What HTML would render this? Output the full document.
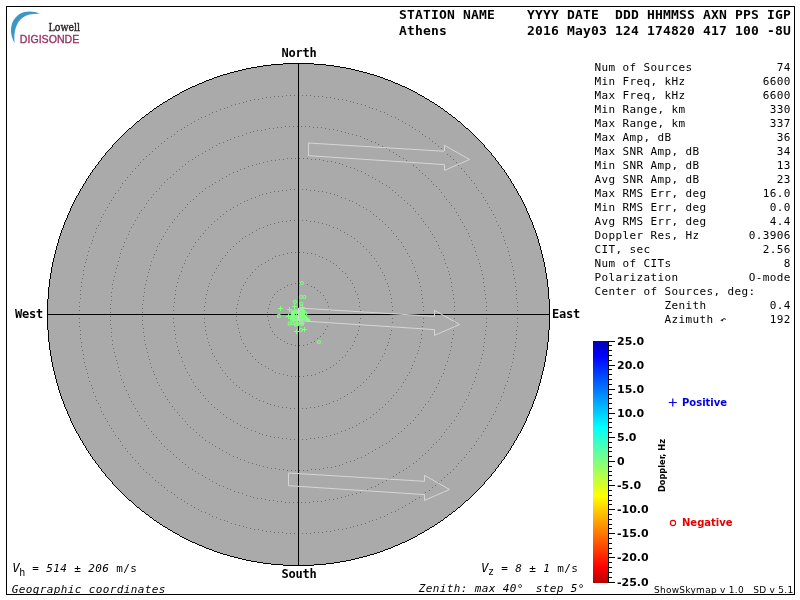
<!DOCTYPE html><html><head><meta charset="utf-8"><title>ShowSkymap</title><style>
html,body{margin:0;padding:0;background:#fff;}body{width:800px;height:600px;overflow:hidden;position:relative;}
svg{position:absolute;left:0;top:0;will-change:transform;}
.mb{font-family:"DejaVu Sans Mono",monospace;font-weight:bold;}
.m{font-family:"DejaVu Sans Mono",monospace;}
.sb{font-family:"DejaVu Sans",sans-serif;font-weight:bold;}
.s{font-family:"DejaVu Sans",sans-serif;}
</style></head><body>
<svg width="800" height="600" viewBox="0 0 800 600">
<rect x="6.5" y="6.5" width="788" height="588" fill="none" stroke="#000" stroke-width="1"/>
<path d="M14.6,43 C8.8,33 9.8,20 20,13.8 C26,10.6 34,10.9 40,13.9 C34,13.5 28,14.2 23.2,17.2 C15.8,22.2 13.6,32 14.6,43 Z" fill="#3a97c6"/>
<text x="48.6" y="30.7" style="font-family:'DejaVu Serif','Liberation Serif',serif;font-stretch:condensed;font-size:10.4px;fill:#2a2428;stroke:#2a2428;stroke-width:0.35px">Lowell</text>
<text x="19.8" y="43" style="font-family:'Liberation Sans',sans-serif;font-size:10.6px;fill:#952f63;stroke:#952f63;stroke-width:0.3px">DIGISONDE</text>
<circle cx="298.5" cy="314.5" r="251.0" fill="#aaaaaa" stroke="none"/>
<path d="M79,302h1v1h-1zM79,306h1v1h-1zM79,310h1v1h-1zM79,314h1v1h-1zM79,318h1v1h-1zM79,322h1v1h-1zM79,326h1v1h-1zM80,290h1v1h-1zM80,294h1v1h-1zM80,298h1v1h-1zM80,330h1v1h-1zM80,334h1v1h-1zM80,338h1v1h-1zM81,282h1v1h-1zM81,286h1v1h-1zM81,342h1v1h-1zM81,346h1v1h-1zM82,278h1v1h-1zM82,350h1v1h-1zM83,270h1v1h-1zM83,274h1v1h-1zM83,354h1v1h-1zM83,358h1v1h-1zM84,266h1v1h-1zM84,362h1v1h-1zM85,262h1v1h-1zM85,366h1v1h-1zM86,259h1v1h-1zM86,369h1v1h-1zM87,255h1v1h-1zM87,373h1v1h-1zM88,251h1v1h-1zM88,377h1v1h-1zM89,247h1v1h-1zM89,381h1v1h-1zM91,243h1v1h-1zM91,385h1v1h-1zM92,240h1v1h-1zM92,388h1v1h-1zM93,236h1v1h-1zM93,392h1v1h-1zM95,232h1v1h-1zM95,396h1v1h-1zM96,228h1v1h-1zM96,400h1v1h-1zM98,225h1v1h-1zM98,403h1v1h-1zM100,221h1v1h-1zM100,407h1v1h-1zM101,217h1v1h-1zM101,411h1v1h-1zM103,214h1v1h-1zM103,414h1v1h-1zM105,210h1v1h-1zM105,418h1v1h-1zM107,207h1v1h-1zM107,421h1v1h-1zM109,203h1v1h-1zM109,425h1v1h-1zM110,304h1v1h-1zM110,308h1v1h-1zM110,312h1v1h-1zM110,316h1v1h-1zM110,320h1v1h-1zM110,324h1v1h-1zM111,200h1v1h-1zM111,292h1v1h-1zM111,296h1v1h-1zM111,300h1v1h-1zM111,328h1v1h-1zM111,332h1v1h-1zM111,336h1v1h-1zM111,428h1v1h-1zM112,284h1v1h-1zM112,288h1v1h-1zM112,340h1v1h-1zM112,344h1v1h-1zM113,197h1v1h-1zM113,280h1v1h-1zM113,348h1v1h-1zM113,431h1v1h-1zM114,276h1v1h-1zM114,352h1v1h-1zM115,193h1v1h-1zM115,272h1v1h-1zM115,356h1v1h-1zM115,435h1v1h-1zM116,268h1v1h-1zM116,360h1v1h-1zM117,265h1v1h-1zM117,363h1v1h-1zM118,190h1v1h-1zM118,261h1v1h-1zM118,367h1v1h-1zM118,438h1v1h-1zM119,257h1v1h-1zM119,371h1v1h-1zM120,187h1v1h-1zM120,253h1v1h-1zM120,375h1v1h-1zM120,441h1v1h-1zM121,249h1v1h-1zM121,379h1v1h-1zM122,183h1v1h-1zM122,445h1v1h-1zM123,246h1v1h-1zM123,382h1v1h-1zM124,242h1v1h-1zM124,386h1v1h-1zM125,180h1v1h-1zM125,448h1v1h-1zM126,238h1v1h-1zM126,390h1v1h-1zM127,177h1v1h-1zM127,451h1v1h-1zM128,234h1v1h-1zM128,394h1v1h-1zM129,231h1v1h-1zM129,397h1v1h-1zM130,174h1v1h-1zM130,454h1v1h-1zM131,227h1v1h-1zM131,401h1v1h-1zM132,171h1v1h-1zM132,457h1v1h-1zM133,224h1v1h-1zM133,404h1v1h-1zM135,168h1v1h-1zM135,220h1v1h-1zM135,408h1v1h-1zM135,460h1v1h-1zM137,217h1v1h-1zM137,411h1v1h-1zM138,165h1v1h-1zM138,463h1v1h-1zM139,213h1v1h-1zM139,415h1v1h-1zM140,162h1v1h-1zM140,466h1v1h-1zM141,210h1v1h-1zM141,418h1v1h-1zM142,304h1v1h-1zM142,308h1v1h-1zM142,312h1v1h-1zM142,316h1v1h-1zM142,320h1v1h-1zM142,324h1v1h-1zM143,159h1v1h-1zM143,296h1v1h-1zM143,300h1v1h-1zM143,328h1v1h-1zM143,332h1v1h-1zM143,469h1v1h-1zM144,207h1v1h-1zM144,288h1v1h-1zM144,292h1v1h-1zM144,336h1v1h-1zM144,340h1v1h-1zM144,421h1v1h-1zM145,284h1v1h-1zM145,344h1v1h-1zM146,156h1v1h-1zM146,203h1v1h-1zM146,280h1v1h-1zM146,348h1v1h-1zM146,425h1v1h-1zM146,472h1v1h-1zM147,276h1v1h-1zM147,352h1v1h-1zM148,200h1v1h-1zM148,272h1v1h-1zM148,356h1v1h-1zM148,428h1v1h-1zM149,154h1v1h-1zM149,269h1v1h-1zM149,359h1v1h-1zM149,474h1v1h-1zM150,265h1v1h-1zM150,363h1v1h-1zM151,197h1v1h-1zM151,261h1v1h-1zM151,367h1v1h-1zM151,431h1v1h-1zM152,151h1v1h-1zM152,477h1v1h-1zM153,194h1v1h-1zM153,257h1v1h-1zM153,371h1v1h-1zM153,434h1v1h-1zM154,254h1v1h-1zM154,374h1v1h-1zM155,148h1v1h-1zM155,480h1v1h-1zM156,191h1v1h-1zM156,250h1v1h-1zM156,378h1v1h-1zM156,437h1v1h-1zM157,246h1v1h-1zM157,382h1v1h-1zM158,146h1v1h-1zM158,482h1v1h-1zM159,188h1v1h-1zM159,243h1v1h-1zM159,385h1v1h-1zM159,440h1v1h-1zM161,143h1v1h-1zM161,185h1v1h-1zM161,239h1v1h-1zM161,389h1v1h-1zM161,443h1v1h-1zM161,485h1v1h-1zM163,236h1v1h-1zM163,392h1v1h-1zM164,141h1v1h-1zM164,182h1v1h-1zM164,446h1v1h-1zM164,487h1v1h-1zM165,232h1v1h-1zM165,396h1v1h-1zM167,138h1v1h-1zM167,179h1v1h-1zM167,229h1v1h-1zM167,399h1v1h-1zM167,449h1v1h-1zM167,490h1v1h-1zM169,226h1v1h-1zM169,402h1v1h-1zM170,177h1v1h-1zM170,451h1v1h-1zM171,136h1v1h-1zM171,492h1v1h-1zM172,222h1v1h-1zM172,406h1v1h-1zM173,174h1v1h-1zM173,306h1v1h-1zM173,310h1v1h-1zM173,314h1v1h-1zM173,318h1v1h-1zM173,322h1v1h-1zM173,454h1v1h-1zM174,134h1v1h-1zM174,219h1v1h-1zM174,298h1v1h-1zM174,302h1v1h-1zM174,326h1v1h-1zM174,330h1v1h-1zM174,409h1v1h-1zM174,494h1v1h-1zM175,290h1v1h-1zM175,294h1v1h-1zM175,334h1v1h-1zM175,338h1v1h-1zM176,171h1v1h-1zM176,286h1v1h-1zM176,342h1v1h-1zM176,457h1v1h-1zM177,131h1v1h-1zM177,216h1v1h-1zM177,282h1v1h-1zM177,346h1v1h-1zM177,412h1v1h-1zM177,497h1v1h-1zM178,278h1v1h-1zM178,350h1v1h-1zM179,169h1v1h-1zM179,213h1v1h-1zM179,275h1v1h-1zM179,353h1v1h-1zM179,415h1v1h-1zM179,459h1v1h-1zM181,129h1v1h-1zM181,271h1v1h-1zM181,357h1v1h-1zM181,499h1v1h-1zM182,166h1v1h-1zM182,210h1v1h-1zM182,267h1v1h-1zM182,361h1v1h-1zM182,418h1v1h-1zM182,462h1v1h-1zM184,127h1v1h-1zM184,263h1v1h-1zM184,365h1v1h-1zM184,501h1v1h-1zM185,164h1v1h-1zM185,207h1v1h-1zM185,260h1v1h-1zM185,368h1v1h-1zM185,421h1v1h-1zM185,464h1v1h-1zM187,125h1v1h-1zM187,204h1v1h-1zM187,256h1v1h-1zM187,372h1v1h-1zM187,424h1v1h-1zM187,503h1v1h-1zM188,161h1v1h-1zM188,467h1v1h-1zM189,253h1v1h-1zM189,375h1v1h-1zM190,201h1v1h-1zM190,427h1v1h-1zM191,123h1v1h-1zM191,249h1v1h-1zM191,379h1v1h-1zM191,505h1v1h-1zM192,159h1v1h-1zM192,469h1v1h-1zM193,199h1v1h-1zM193,246h1v1h-1zM193,382h1v1h-1zM193,429h1v1h-1zM194,121h1v1h-1zM194,507h1v1h-1zM195,157h1v1h-1zM195,242h1v1h-1zM195,386h1v1h-1zM195,471h1v1h-1zM196,196h1v1h-1zM196,432h1v1h-1zM198,119h1v1h-1zM198,155h1v1h-1zM198,239h1v1h-1zM198,389h1v1h-1zM198,473h1v1h-1zM198,509h1v1h-1zM199,193h1v1h-1zM199,435h1v1h-1zM200,236h1v1h-1zM200,392h1v1h-1zM201,117h1v1h-1zM201,511h1v1h-1zM202,153h1v1h-1zM202,191h1v1h-1zM202,437h1v1h-1zM202,475h1v1h-1zM203,233h1v1h-1zM203,395h1v1h-1zM204,306h1v1h-1zM204,310h1v1h-1zM204,314h1v1h-1zM204,318h1v1h-1zM204,322h1v1h-1zM205,116h1v1h-1zM205,151h1v1h-1zM205,188h1v1h-1zM205,230h1v1h-1zM205,298h1v1h-1zM205,302h1v1h-1zM205,326h1v1h-1zM205,330h1v1h-1zM205,398h1v1h-1zM205,440h1v1h-1zM205,477h1v1h-1zM205,512h1v1h-1zM206,294h1v1h-1zM206,334h1v1h-1zM207,290h1v1h-1zM207,338h1v1h-1zM208,227h1v1h-1zM208,286h1v1h-1zM208,342h1v1h-1zM208,401h1v1h-1zM209,114h1v1h-1zM209,149h1v1h-1zM209,186h1v1h-1zM209,283h1v1h-1zM209,345h1v1h-1zM209,442h1v1h-1zM209,479h1v1h-1zM209,514h1v1h-1zM211,224h1v1h-1zM211,279h1v1h-1zM211,349h1v1h-1zM211,404h1v1h-1zM212,112h1v1h-1zM212,147h1v1h-1zM212,184h1v1h-1zM212,275h1v1h-1zM212,353h1v1h-1zM212,444h1v1h-1zM212,481h1v1h-1zM212,516h1v1h-1zM214,221h1v1h-1zM214,272h1v1h-1zM214,356h1v1h-1zM214,407h1v1h-1zM215,182h1v1h-1zM215,446h1v1h-1zM216,111h1v1h-1zM216,145h1v1h-1zM216,268h1v1h-1zM216,360h1v1h-1zM216,483h1v1h-1zM216,517h1v1h-1zM217,219h1v1h-1zM217,409h1v1h-1zM218,265h1v1h-1zM218,363h1v1h-1zM219,143h1v1h-1zM219,180h1v1h-1zM219,448h1v1h-1zM219,485h1v1h-1zM220,109h1v1h-1zM220,216h1v1h-1zM220,261h1v1h-1zM220,367h1v1h-1zM220,412h1v1h-1zM220,519h1v1h-1zM222,178h1v1h-1zM222,258h1v1h-1zM222,370h1v1h-1zM222,450h1v1h-1zM223,142h1v1h-1zM223,214h1v1h-1zM223,414h1v1h-1zM223,486h1v1h-1zM224,108h1v1h-1zM224,520h1v1h-1zM225,255h1v1h-1zM225,373h1v1h-1zM226,176h1v1h-1zM226,211h1v1h-1zM226,417h1v1h-1zM226,452h1v1h-1zM227,107h1v1h-1zM227,140h1v1h-1zM227,252h1v1h-1zM227,376h1v1h-1zM227,488h1v1h-1zM227,521h1v1h-1zM229,174h1v1h-1zM229,454h1v1h-1zM230,139h1v1h-1zM230,209h1v1h-1zM230,249h1v1h-1zM230,379h1v1h-1zM230,419h1v1h-1zM230,489h1v1h-1zM231,105h1v1h-1zM231,523h1v1h-1zM233,172h1v1h-1zM233,207h1v1h-1zM233,246h1v1h-1zM233,382h1v1h-1zM233,421h1v1h-1zM233,456h1v1h-1zM234,137h1v1h-1zM234,491h1v1h-1zM235,104h1v1h-1zM235,524h1v1h-1zM236,243h1v1h-1zM236,308h1v1h-1zM236,312h1v1h-1zM236,316h1v1h-1zM236,320h1v1h-1zM236,385h1v1h-1zM237,171h1v1h-1zM237,205h1v1h-1zM237,304h1v1h-1zM237,324h1v1h-1zM237,423h1v1h-1zM237,457h1v1h-1zM238,136h1v1h-1zM238,300h1v1h-1zM238,328h1v1h-1zM238,492h1v1h-1zM239,103h1v1h-1zM239,241h1v1h-1zM239,296h1v1h-1zM239,332h1v1h-1zM239,387h1v1h-1zM239,525h1v1h-1zM240,169h1v1h-1zM240,203h1v1h-1zM240,292h1v1h-1zM240,336h1v1h-1zM240,425h1v1h-1zM240,459h1v1h-1zM241,289h1v1h-1zM241,339h1v1h-1zM242,135h1v1h-1zM242,238h1v1h-1zM242,390h1v1h-1zM242,493h1v1h-1zM243,102h1v1h-1zM243,285h1v1h-1zM243,343h1v1h-1zM243,526h1v1h-1zM244,168h1v1h-1zM244,201h1v1h-1zM244,427h1v1h-1zM244,460h1v1h-1zM245,236h1v1h-1zM245,282h1v1h-1zM245,346h1v1h-1zM245,392h1v1h-1zM246,101h1v1h-1zM246,133h1v1h-1zM246,495h1v1h-1zM246,527h1v1h-1zM247,200h1v1h-1zM247,278h1v1h-1zM247,350h1v1h-1zM247,428h1v1h-1zM248,166h1v1h-1zM248,462h1v1h-1zM249,234h1v1h-1zM249,394h1v1h-1zM250,100h1v1h-1zM250,132h1v1h-1zM250,275h1v1h-1zM250,353h1v1h-1zM250,496h1v1h-1zM250,528h1v1h-1zM251,198h1v1h-1zM251,430h1v1h-1zM252,165h1v1h-1zM252,232h1v1h-1zM252,272h1v1h-1zM252,356h1v1h-1zM252,396h1v1h-1zM252,463h1v1h-1zM253,131h1v1h-1zM253,497h1v1h-1zM254,99h1v1h-1zM254,529h1v1h-1zM255,197h1v1h-1zM255,269h1v1h-1zM255,359h1v1h-1zM255,431h1v1h-1zM256,164h1v1h-1zM256,230h1v1h-1zM256,398h1v1h-1zM256,464h1v1h-1zM257,130h1v1h-1zM257,498h1v1h-1zM258,99h1v1h-1zM258,266h1v1h-1zM258,362h1v1h-1zM258,529h1v1h-1zM259,163h1v1h-1zM259,195h1v1h-1zM259,228h1v1h-1zM259,400h1v1h-1zM259,433h1v1h-1zM259,465h1v1h-1zM261,130h1v1h-1zM261,264h1v1h-1zM261,364h1v1h-1zM261,498h1v1h-1zM262,98h1v1h-1zM262,194h1v1h-1zM262,434h1v1h-1zM262,530h1v1h-1zM263,162h1v1h-1zM263,227h1v1h-1zM263,401h1v1h-1zM263,466h1v1h-1zM265,129h1v1h-1zM265,262h1v1h-1zM265,366h1v1h-1zM265,499h1v1h-1zM266,97h1v1h-1zM266,193h1v1h-1zM266,435h1v1h-1zM266,531h1v1h-1zM267,161h1v1h-1zM267,225h1v1h-1zM267,312h1v1h-1zM267,316h1v1h-1zM267,403h1v1h-1zM267,467h1v1h-1zM268,260h1v1h-1zM268,308h1v1h-1zM268,320h1v1h-1zM268,368h1v1h-1zM269,128h1v1h-1zM269,304h1v1h-1zM269,324h1v1h-1zM269,500h1v1h-1zM270,97h1v1h-1zM270,192h1v1h-1zM270,224h1v1h-1zM270,301h1v1h-1zM270,327h1v1h-1zM270,404h1v1h-1zM270,436h1v1h-1zM270,531h1v1h-1zM271,160h1v1h-1zM271,468h1v1h-1zM272,258h1v1h-1zM272,297h1v1h-1zM272,331h1v1h-1zM272,370h1v1h-1zM273,128h1v1h-1zM273,500h1v1h-1zM274,96h1v1h-1zM274,191h1v1h-1zM274,223h1v1h-1zM274,294h1v1h-1zM274,334h1v1h-1zM274,405h1v1h-1zM274,437h1v1h-1zM274,532h1v1h-1zM275,160h1v1h-1zM275,256h1v1h-1zM275,372h1v1h-1zM275,468h1v1h-1zM277,127h1v1h-1zM277,291h1v1h-1zM277,337h1v1h-1zM277,501h1v1h-1zM278,96h1v1h-1zM278,191h1v1h-1zM278,222h1v1h-1zM278,406h1v1h-1zM278,437h1v1h-1zM278,532h1v1h-1zM279,159h1v1h-1zM279,255h1v1h-1zM279,373h1v1h-1zM279,469h1v1h-1zM280,289h1v1h-1zM280,339h1v1h-1zM281,127h1v1h-1zM281,501h1v1h-1zM282,96h1v1h-1zM282,190h1v1h-1zM282,221h1v1h-1zM282,407h1v1h-1zM282,438h1v1h-1zM282,532h1v1h-1zM283,159h1v1h-1zM283,254h1v1h-1zM283,374h1v1h-1zM283,469h1v1h-1zM284,287h1v1h-1zM284,341h1v1h-1zM285,126h1v1h-1zM285,502h1v1h-1zM286,95h1v1h-1zM286,190h1v1h-1zM286,221h1v1h-1zM286,407h1v1h-1zM286,438h1v1h-1zM286,533h1v1h-1zM287,158h1v1h-1zM287,253h1v1h-1zM287,285h1v1h-1zM287,343h1v1h-1zM287,375h1v1h-1zM287,470h1v1h-1zM289,126h1v1h-1zM289,502h1v1h-1zM290,95h1v1h-1zM290,189h1v1h-1zM290,220h1v1h-1zM290,408h1v1h-1zM290,439h1v1h-1zM290,533h1v1h-1zM291,158h1v1h-1zM291,252h1v1h-1zM291,284h1v1h-1zM291,344h1v1h-1zM291,376h1v1h-1zM291,470h1v1h-1zM293,126h1v1h-1zM293,502h1v1h-1zM294,95h1v1h-1zM294,189h1v1h-1zM294,220h1v1h-1zM294,408h1v1h-1zM294,439h1v1h-1zM294,533h1v1h-1zM295,158h1v1h-1zM295,252h1v1h-1zM295,283h1v1h-1zM295,345h1v1h-1zM295,376h1v1h-1zM295,470h1v1h-1zM297,126h1v1h-1zM297,502h1v1h-1zM298,95h1v1h-1zM298,189h1v1h-1zM298,220h1v1h-1zM298,408h1v1h-1zM298,439h1v1h-1zM298,533h1v1h-1zM299,158h1v1h-1zM299,252h1v1h-1zM299,283h1v1h-1zM299,345h1v1h-1zM299,376h1v1h-1zM299,470h1v1h-1zM301,126h1v1h-1zM301,502h1v1h-1zM302,95h1v1h-1zM302,189h1v1h-1zM302,220h1v1h-1zM302,408h1v1h-1zM302,439h1v1h-1zM302,533h1v1h-1zM303,158h1v1h-1zM303,252h1v1h-1zM303,283h1v1h-1zM303,345h1v1h-1zM303,376h1v1h-1zM303,470h1v1h-1zM305,126h1v1h-1zM305,502h1v1h-1zM306,95h1v1h-1zM306,189h1v1h-1zM306,220h1v1h-1zM306,408h1v1h-1zM306,439h1v1h-1zM306,533h1v1h-1zM307,158h1v1h-1zM307,253h1v1h-1zM307,284h1v1h-1zM307,344h1v1h-1zM307,375h1v1h-1zM307,470h1v1h-1zM309,126h1v1h-1zM309,502h1v1h-1zM310,95h1v1h-1zM310,190h1v1h-1zM310,221h1v1h-1zM310,407h1v1h-1zM310,438h1v1h-1zM310,533h1v1h-1zM311,159h1v1h-1zM311,253h1v1h-1zM311,286h1v1h-1zM311,342h1v1h-1zM311,375h1v1h-1zM311,469h1v1h-1zM313,127h1v1h-1zM313,501h1v1h-1zM314,96h1v1h-1zM314,190h1v1h-1zM314,221h1v1h-1zM314,287h1v1h-1zM314,341h1v1h-1zM314,407h1v1h-1zM314,438h1v1h-1zM314,532h1v1h-1zM315,159h1v1h-1zM315,254h1v1h-1zM315,374h1v1h-1zM315,469h1v1h-1zM317,127h1v1h-1zM317,290h1v1h-1zM317,338h1v1h-1zM317,501h1v1h-1zM318,96h1v1h-1zM318,191h1v1h-1zM318,222h1v1h-1zM318,406h1v1h-1zM318,437h1v1h-1zM318,532h1v1h-1zM319,159h1v1h-1zM319,256h1v1h-1zM319,372h1v1h-1zM319,469h1v1h-1zM320,292h1v1h-1zM320,336h1v1h-1zM321,127h1v1h-1zM321,501h1v1h-1zM322,96h1v1h-1zM322,191h1v1h-1zM322,223h1v1h-1zM322,257h1v1h-1zM322,371h1v1h-1zM322,405h1v1h-1zM322,437h1v1h-1zM322,532h1v1h-1zM323,160h1v1h-1zM323,295h1v1h-1zM323,333h1v1h-1zM323,468h1v1h-1zM325,128h1v1h-1zM325,299h1v1h-1zM325,329h1v1h-1zM325,500h1v1h-1zM326,97h1v1h-1zM326,192h1v1h-1zM326,224h1v1h-1zM326,259h1v1h-1zM326,369h1v1h-1zM326,404h1v1h-1zM326,436h1v1h-1zM326,531h1v1h-1zM327,161h1v1h-1zM327,302h1v1h-1zM327,326h1v1h-1zM327,467h1v1h-1zM328,306h1v1h-1zM328,322h1v1h-1zM329,129h1v1h-1zM329,225h1v1h-1zM329,310h1v1h-1zM329,314h1v1h-1zM329,318h1v1h-1zM329,403h1v1h-1zM329,499h1v1h-1zM330,97h1v1h-1zM330,193h1v1h-1zM330,261h1v1h-1zM330,367h1v1h-1zM330,435h1v1h-1zM330,531h1v1h-1zM331,161h1v1h-1zM331,467h1v1h-1zM333,129h1v1h-1zM333,227h1v1h-1zM333,263h1v1h-1zM333,365h1v1h-1zM333,401h1v1h-1zM333,499h1v1h-1zM334,98h1v1h-1zM334,194h1v1h-1zM334,434h1v1h-1zM334,530h1v1h-1zM335,162h1v1h-1zM335,466h1v1h-1zM336,265h1v1h-1zM336,363h1v1h-1zM337,130h1v1h-1zM337,195h1v1h-1zM337,228h1v1h-1zM337,400h1v1h-1zM337,433h1v1h-1zM337,498h1v1h-1zM338,99h1v1h-1zM338,529h1v1h-1zM339,163h1v1h-1zM339,268h1v1h-1zM339,360h1v1h-1zM339,465h1v1h-1zM340,230h1v1h-1zM340,398h1v1h-1zM341,131h1v1h-1zM341,197h1v1h-1zM341,431h1v1h-1zM341,497h1v1h-1zM342,99h1v1h-1zM342,164h1v1h-1zM342,271h1v1h-1zM342,357h1v1h-1zM342,464h1v1h-1zM342,529h1v1h-1zM344,232h1v1h-1zM344,396h1v1h-1zM345,132h1v1h-1zM345,198h1v1h-1zM345,273h1v1h-1zM345,355h1v1h-1zM345,430h1v1h-1zM345,496h1v1h-1zM346,100h1v1h-1zM346,166h1v1h-1zM346,462h1v1h-1zM346,528h1v1h-1zM347,234h1v1h-1zM347,277h1v1h-1zM347,351h1v1h-1zM347,394h1v1h-1zM348,133h1v1h-1zM348,495h1v1h-1zM349,200h1v1h-1zM349,428h1v1h-1zM350,101h1v1h-1zM350,167h1v1h-1zM350,280h1v1h-1zM350,348h1v1h-1zM350,461h1v1h-1zM350,527h1v1h-1zM351,236h1v1h-1zM351,392h1v1h-1zM352,134h1v1h-1zM352,201h1v1h-1zM352,283h1v1h-1zM352,345h1v1h-1zM352,427h1v1h-1zM352,494h1v1h-1zM353,102h1v1h-1zM353,526h1v1h-1zM354,168h1v1h-1zM354,238h1v1h-1zM354,287h1v1h-1zM354,341h1v1h-1zM354,390h1v1h-1zM354,460h1v1h-1zM355,291h1v1h-1zM355,337h1v1h-1zM356,135h1v1h-1zM356,203h1v1h-1zM356,425h1v1h-1zM356,493h1v1h-1zM357,103h1v1h-1zM357,170h1v1h-1zM357,241h1v1h-1zM357,294h1v1h-1zM357,334h1v1h-1zM357,387h1v1h-1zM357,458h1v1h-1zM357,525h1v1h-1zM358,298h1v1h-1zM358,330h1v1h-1zM359,205h1v1h-1zM359,302h1v1h-1zM359,306h1v1h-1zM359,322h1v1h-1zM359,326h1v1h-1zM359,423h1v1h-1zM360,136h1v1h-1zM360,243h1v1h-1zM360,310h1v1h-1zM360,314h1v1h-1zM360,318h1v1h-1zM360,385h1v1h-1zM360,492h1v1h-1zM361,104h1v1h-1zM361,171h1v1h-1zM361,457h1v1h-1zM361,524h1v1h-1zM363,207h1v1h-1zM363,246h1v1h-1zM363,382h1v1h-1zM363,421h1v1h-1zM364,138h1v1h-1zM364,490h1v1h-1zM365,105h1v1h-1zM365,173h1v1h-1zM365,455h1v1h-1zM365,523h1v1h-1zM366,209h1v1h-1zM366,249h1v1h-1zM366,379h1v1h-1zM366,419h1v1h-1zM367,139h1v1h-1zM367,489h1v1h-1zM368,175h1v1h-1zM368,453h1v1h-1zM369,107h1v1h-1zM369,252h1v1h-1zM369,376h1v1h-1zM369,521h1v1h-1zM370,211h1v1h-1zM370,417h1v1h-1zM371,141h1v1h-1zM371,255h1v1h-1zM371,373h1v1h-1zM371,487h1v1h-1zM372,108h1v1h-1zM372,177h1v1h-1zM372,451h1v1h-1zM372,520h1v1h-1zM373,214h1v1h-1zM373,414h1v1h-1zM374,258h1v1h-1zM374,370h1v1h-1zM375,142h1v1h-1zM375,179h1v1h-1zM375,449h1v1h-1zM375,486h1v1h-1zM376,109h1v1h-1zM376,216h1v1h-1zM376,261h1v1h-1zM376,367h1v1h-1zM376,412h1v1h-1zM376,519h1v1h-1zM378,144h1v1h-1zM378,265h1v1h-1zM378,363h1v1h-1zM378,484h1v1h-1zM379,181h1v1h-1zM379,219h1v1h-1zM379,409h1v1h-1zM379,447h1v1h-1zM380,111h1v1h-1zM380,268h1v1h-1zM380,360h1v1h-1zM380,517h1v1h-1zM382,146h1v1h-1zM382,183h1v1h-1zM382,221h1v1h-1zM382,272h1v1h-1zM382,356h1v1h-1zM382,407h1v1h-1zM382,445h1v1h-1zM382,482h1v1h-1zM384,112h1v1h-1zM384,275h1v1h-1zM384,353h1v1h-1zM384,516h1v1h-1zM385,224h1v1h-1zM385,279h1v1h-1zM385,349h1v1h-1zM385,404h1v1h-1zM386,148h1v1h-1zM386,185h1v1h-1zM386,443h1v1h-1zM386,480h1v1h-1zM387,114h1v1h-1zM387,283h1v1h-1zM387,345h1v1h-1zM387,514h1v1h-1zM388,227h1v1h-1zM388,286h1v1h-1zM388,342h1v1h-1zM388,401h1v1h-1zM389,150h1v1h-1zM389,187h1v1h-1zM389,290h1v1h-1zM389,338h1v1h-1zM389,441h1v1h-1zM389,478h1v1h-1zM390,294h1v1h-1zM390,334h1v1h-1zM391,116h1v1h-1zM391,230h1v1h-1zM391,298h1v1h-1zM391,302h1v1h-1zM391,326h1v1h-1zM391,330h1v1h-1zM391,398h1v1h-1zM391,512h1v1h-1zM392,190h1v1h-1zM392,306h1v1h-1zM392,310h1v1h-1zM392,314h1v1h-1zM392,318h1v1h-1zM392,322h1v1h-1zM392,438h1v1h-1zM393,152h1v1h-1zM393,233h1v1h-1zM393,395h1v1h-1zM393,476h1v1h-1zM395,117h1v1h-1zM395,192h1v1h-1zM395,436h1v1h-1zM395,511h1v1h-1zM396,154h1v1h-1zM396,236h1v1h-1zM396,392h1v1h-1zM396,474h1v1h-1zM398,119h1v1h-1zM398,195h1v1h-1zM398,239h1v1h-1zM398,389h1v1h-1zM398,433h1v1h-1zM398,509h1v1h-1zM399,156h1v1h-1zM399,472h1v1h-1zM401,197h1v1h-1zM401,242h1v1h-1zM401,386h1v1h-1zM401,431h1v1h-1zM402,121h1v1h-1zM402,507h1v1h-1zM403,158h1v1h-1zM403,246h1v1h-1zM403,382h1v1h-1zM403,470h1v1h-1zM404,200h1v1h-1zM404,428h1v1h-1zM405,123h1v1h-1zM405,249h1v1h-1zM405,379h1v1h-1zM405,505h1v1h-1zM406,160h1v1h-1zM406,468h1v1h-1zM407,203h1v1h-1zM407,253h1v1h-1zM407,375h1v1h-1zM407,425h1v1h-1zM409,125h1v1h-1zM409,162h1v1h-1zM409,256h1v1h-1zM409,372h1v1h-1zM409,466h1v1h-1zM409,503h1v1h-1zM410,205h1v1h-1zM410,423h1v1h-1zM411,260h1v1h-1zM411,368h1v1h-1zM412,127h1v1h-1zM412,263h1v1h-1zM412,365h1v1h-1zM412,501h1v1h-1zM413,165h1v1h-1zM413,208h1v1h-1zM413,420h1v1h-1zM413,463h1v1h-1zM414,267h1v1h-1zM414,361h1v1h-1zM415,129h1v1h-1zM415,211h1v1h-1zM415,271h1v1h-1zM415,357h1v1h-1zM415,417h1v1h-1zM415,499h1v1h-1zM416,167h1v1h-1zM416,461h1v1h-1zM417,275h1v1h-1zM417,353h1v1h-1zM418,214h1v1h-1zM418,278h1v1h-1zM418,350h1v1h-1zM418,414h1v1h-1zM419,131h1v1h-1zM419,170h1v1h-1zM419,282h1v1h-1zM419,346h1v1h-1zM419,458h1v1h-1zM419,497h1v1h-1zM420,286h1v1h-1zM420,342h1v1h-1zM421,218h1v1h-1zM421,290h1v1h-1zM421,294h1v1h-1zM421,334h1v1h-1zM421,338h1v1h-1zM421,410h1v1h-1zM422,134h1v1h-1zM422,173h1v1h-1zM422,298h1v1h-1zM422,302h1v1h-1zM422,326h1v1h-1zM422,330h1v1h-1zM422,455h1v1h-1zM422,494h1v1h-1zM423,221h1v1h-1zM423,306h1v1h-1zM423,310h1v1h-1zM423,314h1v1h-1zM423,318h1v1h-1zM423,322h1v1h-1zM423,407h1v1h-1zM425,136h1v1h-1zM425,175h1v1h-1zM425,224h1v1h-1zM425,404h1v1h-1zM425,453h1v1h-1zM425,492h1v1h-1zM428,178h1v1h-1zM428,227h1v1h-1zM428,401h1v1h-1zM428,450h1v1h-1zM429,138h1v1h-1zM429,490h1v1h-1zM430,231h1v1h-1zM430,397h1v1h-1zM431,181h1v1h-1zM431,447h1v1h-1zM432,141h1v1h-1zM432,234h1v1h-1zM432,394h1v1h-1zM432,487h1v1h-1zM433,184h1v1h-1zM433,444h1v1h-1zM434,237h1v1h-1zM434,391h1v1h-1zM435,143h1v1h-1zM435,485h1v1h-1zM436,186h1v1h-1zM436,241h1v1h-1zM436,387h1v1h-1zM436,442h1v1h-1zM438,146h1v1h-1zM438,245h1v1h-1zM438,383h1v1h-1zM438,482h1v1h-1zM439,189h1v1h-1zM439,248h1v1h-1zM439,380h1v1h-1zM439,439h1v1h-1zM441,148h1v1h-1zM441,192h1v1h-1zM441,252h1v1h-1zM441,376h1v1h-1zM441,436h1v1h-1zM441,480h1v1h-1zM443,255h1v1h-1zM443,373h1v1h-1zM444,151h1v1h-1zM444,196h1v1h-1zM444,259h1v1h-1zM444,369h1v1h-1zM444,432h1v1h-1zM444,477h1v1h-1zM445,263h1v1h-1zM445,365h1v1h-1zM446,199h1v1h-1zM446,429h1v1h-1zM447,154h1v1h-1zM447,267h1v1h-1zM447,361h1v1h-1zM447,474h1v1h-1zM448,271h1v1h-1zM448,357h1v1h-1zM449,202h1v1h-1zM449,274h1v1h-1zM449,354h1v1h-1zM449,426h1v1h-1zM450,156h1v1h-1zM450,278h1v1h-1zM450,350h1v1h-1zM450,472h1v1h-1zM451,205h1v1h-1zM451,282h1v1h-1zM451,286h1v1h-1zM451,342h1v1h-1zM451,346h1v1h-1zM451,423h1v1h-1zM452,290h1v1h-1zM452,338h1v1h-1zM453,159h1v1h-1zM453,294h1v1h-1zM453,298h1v1h-1zM453,330h1v1h-1zM453,334h1v1h-1zM453,469h1v1h-1zM454,208h1v1h-1zM454,302h1v1h-1zM454,306h1v1h-1zM454,310h1v1h-1zM454,314h1v1h-1zM454,318h1v1h-1zM454,322h1v1h-1zM454,326h1v1h-1zM454,420h1v1h-1zM456,162h1v1h-1zM456,212h1v1h-1zM456,416h1v1h-1zM456,466h1v1h-1zM458,165h1v1h-1zM458,215h1v1h-1zM458,413h1v1h-1zM458,463h1v1h-1zM460,219h1v1h-1zM460,409h1v1h-1zM461,168h1v1h-1zM461,460h1v1h-1zM462,222h1v1h-1zM462,406h1v1h-1zM464,171h1v1h-1zM464,226h1v1h-1zM464,402h1v1h-1zM464,457h1v1h-1zM466,174h1v1h-1zM466,229h1v1h-1zM466,399h1v1h-1zM466,454h1v1h-1zM468,233h1v1h-1zM468,395h1v1h-1zM469,177h1v1h-1zM469,236h1v1h-1zM469,392h1v1h-1zM469,451h1v1h-1zM471,180h1v1h-1zM471,240h1v1h-1zM471,388h1v1h-1zM471,448h1v1h-1zM472,244h1v1h-1zM472,384h1v1h-1zM474,183h1v1h-1zM474,247h1v1h-1zM474,381h1v1h-1zM474,445h1v1h-1zM475,251h1v1h-1zM475,377h1v1h-1zM476,187h1v1h-1zM476,255h1v1h-1zM476,373h1v1h-1zM476,441h1v1h-1zM478,190h1v1h-1zM478,259h1v1h-1zM478,369h1v1h-1zM478,438h1v1h-1zM479,263h1v1h-1zM479,365h1v1h-1zM480,266h1v1h-1zM480,362h1v1h-1zM481,193h1v1h-1zM481,270h1v1h-1zM481,358h1v1h-1zM481,435h1v1h-1zM482,274h1v1h-1zM482,354h1v1h-1zM483,197h1v1h-1zM483,278h1v1h-1zM483,282h1v1h-1zM483,346h1v1h-1zM483,350h1v1h-1zM483,431h1v1h-1zM484,286h1v1h-1zM484,290h1v1h-1zM484,338h1v1h-1zM484,342h1v1h-1zM485,200h1v1h-1zM485,294h1v1h-1zM485,298h1v1h-1zM485,330h1v1h-1zM485,334h1v1h-1zM485,428h1v1h-1zM486,302h1v1h-1zM486,306h1v1h-1zM486,310h1v1h-1zM486,314h1v1h-1zM486,318h1v1h-1zM486,322h1v1h-1zM486,326h1v1h-1zM487,203h1v1h-1zM487,425h1v1h-1zM489,207h1v1h-1zM489,421h1v1h-1zM491,210h1v1h-1zM491,418h1v1h-1zM493,214h1v1h-1zM493,414h1v1h-1zM495,217h1v1h-1zM495,411h1v1h-1zM496,221h1v1h-1zM496,407h1v1h-1zM498,225h1v1h-1zM498,403h1v1h-1zM500,228h1v1h-1zM500,400h1v1h-1zM501,232h1v1h-1zM501,396h1v1h-1zM503,236h1v1h-1zM503,392h1v1h-1zM504,240h1v1h-1zM504,388h1v1h-1zM505,243h1v1h-1zM505,385h1v1h-1zM507,247h1v1h-1zM507,381h1v1h-1zM508,251h1v1h-1zM508,377h1v1h-1zM509,255h1v1h-1zM509,373h1v1h-1zM510,259h1v1h-1zM510,369h1v1h-1zM511,262h1v1h-1zM511,366h1v1h-1zM512,266h1v1h-1zM512,362h1v1h-1zM513,270h1v1h-1zM513,274h1v1h-1zM513,354h1v1h-1zM513,358h1v1h-1zM514,278h1v1h-1zM514,350h1v1h-1zM515,282h1v1h-1zM515,286h1v1h-1zM515,342h1v1h-1zM515,346h1v1h-1zM516,290h1v1h-1zM516,294h1v1h-1zM516,298h1v1h-1zM516,330h1v1h-1zM516,334h1v1h-1zM516,338h1v1h-1zM517,302h1v1h-1zM517,306h1v1h-1zM517,310h1v1h-1zM517,314h1v1h-1zM517,318h1v1h-1zM517,322h1v1h-1zM517,326h1v1h-1z" fill="#6e6e6e" shape-rendering="crispEdges"/>
<line x1="47.5" y1="314.5" x2="549.5" y2="314.5" stroke="#000" stroke-width="1"/>
<line x1="298.5" y1="63.5" x2="298.5" y2="565.5" stroke="#000" stroke-width="1"/>
<path d="M214,77h3v1h-3zM380,77h3v1h-3zM209,79h3v1h-3zM385,79h3v1h-3zM217,76h3v1h-3zM377,76h3v1h-3zM197,544h2v1h-2zM398,544h2v1h-2zM199,83h3v1h-3zM395,83h3v1h-3zM163,102h2v1h-2zM432,102h2v1h-2zM283,565h31v1h-31zM188,540h2v1h-2zM407,540h2v1h-2zM251,561h6v1h-6zM340,561h6v1h-6zM214,551h3v1h-3zM380,551h3v1h-3zM209,549h3v1h-3zM385,549h3v1h-3zM206,548h3v1h-3zM388,548h3v1h-3zM177,94h2v1h-2zM418,94h2v1h-2zM251,67h6v1h-6zM340,67h6v1h-6zM199,545h3v1h-3zM395,545h3v1h-3zM186,89h2v1h-2zM409,89h2v1h-2zM246,68h5v1h-5zM346,68h5v1h-5zM184,90h2v1h-2zM411,90h2v1h-2zM192,86h3v1h-3zM402,86h3v1h-3zM190,541h2v1h-2zM405,541h2v1h-2zM220,553h3v1h-3zM374,553h3v1h-3zM242,69h4v1h-4zM351,69h4v1h-4zM238,558h4v1h-4zM355,558h4v1h-4zM271,64h12v1h-12zM314,64h12v1h-12zM263,563h8v1h-8zM326,563h8v1h-8zM173,96h2v1h-2zM422,96h2v1h-2zM146,114h2v1h-2zM449,114h2v1h-2zM230,72h4v1h-4zM363,72h4v1h-4zM170,98h2v1h-2zM425,98h2v1h-2zM271,564h12v1h-12zM314,564h12v1h-12zM257,562h6v1h-6zM334,562h6v1h-6zM188,88h2v1h-2zM407,88h2v1h-2zM146,514h2v1h-2zM449,514h2v1h-2zM154,108h2v1h-2zM441,108h2v1h-2zM230,556h4v1h-4zM363,556h4v1h-4zM227,73h3v1h-3zM367,73h3v1h-3zM223,554h4v1h-4zM370,554h4v1h-4zM242,559h4v1h-4zM351,559h4v1h-4zM168,99h2v1h-2zM427,99h2v1h-2zM220,75h3v1h-3zM374,75h3v1h-3zM246,560h5v1h-5zM346,560h5v1h-5zM165,527h2v1h-2zM430,527h2v1h-2zM180,92h2v1h-2zM415,92h2v1h-2zM129,500h2v1h-2zM466,500h2v1h-2zM234,557h4v1h-4zM359,557h4v1h-4zM234,71h4v1h-4zM359,71h4v1h-4zM182,537h2v1h-2zM413,537h2v1h-2zM283,63h31v1h-31zM195,85h2v1h-2zM400,85h2v1h-2zM202,82h2v1h-2zM393,82h2v1h-2zM197,84h2v1h-2zM398,84h2v1h-2zM217,552h3v1h-3zM377,552h3v1h-3zM192,542h3v1h-3zM402,542h3v1h-3zM157,522h2v1h-2zM438,522h2v1h-2zM204,81h2v1h-2zM391,81h2v1h-2zM173,532h2v1h-2zM422,532h2v1h-2zM263,65h8v1h-8zM326,65h8v1h-8zM202,546h2v1h-2zM393,546h2v1h-2zM238,70h4v1h-4zM355,70h4v1h-4zM195,543h2v1h-2zM400,543h2v1h-2zM186,539h2v1h-2zM409,539h2v1h-2zM180,536h2v1h-2zM415,536h2v1h-2zM206,80h3v1h-3zM388,80h3v1h-3zM163,526h2v1h-2zM432,526h2v1h-2zM160,524h2v1h-2zM435,524h2v1h-2zM223,74h4v1h-4zM370,74h4v1h-4zM227,555h3v1h-3zM367,555h3v1h-3zM154,520h2v1h-2zM441,520h2v1h-2zM257,66h6v1h-6zM334,66h6v1h-6zM170,530h2v1h-2zM425,530h2v1h-2zM190,87h2v1h-2zM405,87h2v1h-2zM184,538h2v1h-2zM411,538h2v1h-2zM177,534h2v1h-2zM418,534h2v1h-2zM150,517h2v1h-2zM445,517h2v1h-2zM142,511h2v1h-2zM453,511h2v1h-2zM129,128h2v1h-2zM466,128h2v1h-2zM212,550h2v1h-2zM383,550h2v1h-2zM137,121h2v1h-2zM458,121h2v1h-2zM160,104h2v1h-2zM435,104h2v1h-2zM137,507h2v1h-2zM458,507h2v1h-2zM175,95h2v1h-2zM420,95h2v1h-2zM212,78h2v1h-2zM383,78h2v1h-2zM175,533h2v1h-2zM420,533h2v1h-2zM168,529h2v1h-2zM427,529h2v1h-2zM142,117h2v1h-2zM453,117h2v1h-2zM165,101h2v1h-2zM430,101h2v1h-2zM182,91h2v1h-2zM413,91h2v1h-2zM157,106h2v1h-2zM438,106h2v1h-2zM150,111h2v1h-2zM445,111h2v1h-2zM204,547h2v1h-2zM391,547h2v1h-2zM114,143h1v1h-1zM114,485h1v1h-1zM549,299h1v31h-1zM58,239h1v4h-1zM58,386h1v4h-1zM545,267h1v6h-1zM545,356h1v6h-1zM51,267h1v6h-1zM51,356h1v6h-1zM49,279h1v8h-1zM49,342h1v8h-1zM47,299h1v31h-1zM48,287h1v12h-1zM48,330h1v12h-1zM512,183h1v1h-1zM512,445h1v1h-1zM74,200h1v2h-1zM74,427h1v2h-1zM526,208h1v3h-1zM526,418h1v3h-1zM536,233h1v3h-1zM536,393h1v3h-1zM144,116h1v1h-1zM144,512h1v1h-1zM133,125h1v1h-1zM133,503h1v1h-1zM65,220h1v2h-1zM65,407h1v2h-1zM86,179h1v2h-1zM86,448h1v2h-1zM540,246h1v4h-1zM540,379h1v4h-1zM500,165h1v1h-1zM500,463h1v1h-1zM82,186h1v2h-1zM82,441h1v2h-1zM476,137h1v1h-1zM476,491h1v1h-1zM79,191h1v2h-1zM79,436h1v2h-1zM535,230h1v3h-1zM535,396h1v3h-1zM532,222h1v3h-1zM532,404h1v3h-1zM501,166h1v2h-1zM501,461h1v2h-1zM54,254h1v4h-1zM54,371h1v4h-1zM508,176h1v2h-1zM508,451h1v2h-1zM61,230h1v3h-1zM61,396h1v3h-1zM464,126h1v1h-1zM464,502h1v1h-1zM117,140h1v1h-1zM117,488h1v1h-1zM504,170h1v2h-1zM504,457h1v2h-1zM482,143h1v1h-1zM482,485h1v1h-1zM56,246h1v4h-1zM56,379h1v4h-1zM539,243h1v3h-1zM539,383h1v3h-1zM533,225h1v3h-1zM533,401h1v3h-1zM75,198h1v2h-1zM75,429h1v2h-1zM434,103h1v1h-1zM434,525h1v1h-1zM548,287h1v12h-1zM548,330h1v12h-1zM491,153h1v2h-1zM491,474h1v2h-1zM52,262h1v5h-1zM52,362h1v5h-1zM494,157h1v1h-1zM494,471h1v1h-1zM417,93h1v1h-1zM417,535h1v1h-1zM89,175h1v1h-1zM89,453h1v1h-1zM460,122h1v1h-1zM460,506h1v1h-1zM67,215h1v3h-1zM67,411h1v3h-1zM66,218h1v2h-1zM66,409h1v2h-1zM50,273h1v6h-1zM50,350h1v6h-1zM506,173h1v2h-1zM506,454h1v2h-1zM70,208h1v3h-1zM70,418h1v3h-1zM78,193h1v2h-1zM78,434h1v2h-1zM53,258h1v4h-1zM53,367h1v4h-1zM98,162h1v2h-1zM98,465h1v2h-1zM101,158h1v2h-1zM101,469h1v2h-1zM448,113h1v1h-1zM448,515h1v1h-1zM489,151h1v1h-1zM489,477h1v1h-1zM159,105h1v1h-1zM159,523h1v1h-1zM546,273h1v6h-1zM546,350h1v6h-1zM69,211h1v2h-1zM69,416h1v2h-1zM140,119h1v1h-1zM140,509h1v1h-1zM148,113h1v1h-1zM148,515h1v1h-1zM463,125h1v1h-1zM463,503h1v1h-1zM525,206h1v2h-1zM525,421h1v2h-1zM523,202h1v2h-1zM523,425h1v2h-1zM85,181h1v2h-1zM85,446h1v2h-1zM141,118h1v1h-1zM141,510h1v1h-1zM109,149h1v1h-1zM109,479h1v1h-1zM543,258h1v4h-1zM543,367h1v4h-1zM64,222h1v3h-1zM64,404h1v3h-1zM152,110h1v1h-1zM152,518h1v1h-1zM57,243h1v3h-1zM57,383h1v3h-1zM483,144h1v1h-1zM483,484h1v1h-1zM99,161h1v1h-1zM99,467h1v1h-1zM156,107h1v1h-1zM156,521h1v1h-1zM531,220h1v2h-1zM531,407h1v2h-1zM118,139h1v1h-1zM118,489h1v1h-1zM63,225h1v3h-1zM63,401h1v3h-1zM511,181h1v2h-1zM511,446h1v2h-1zM100,160h1v1h-1zM100,468h1v1h-1zM60,233h1v3h-1zM60,393h1v3h-1zM499,164h1v1h-1zM499,464h1v1h-1zM519,195h1v1h-1zM519,433h1v1h-1zM542,254h1v4h-1zM542,371h1v4h-1zM73,202h1v2h-1zM73,425h1v2h-1zM471,132h1v1h-1zM471,496h1v1h-1zM121,136h1v1h-1zM121,492h1v1h-1zM515,188h1v1h-1zM515,440h1v1h-1zM443,109h1v1h-1zM443,519h1v1h-1zM492,155h1v1h-1zM492,473h1v1h-1zM547,279h1v8h-1zM547,342h1v8h-1zM486,148h1v1h-1zM486,480h1v1h-1zM447,112h1v1h-1zM447,516h1v1h-1zM81,188h1v1h-1zM81,440h1v1h-1zM522,200h1v2h-1zM522,427h1v2h-1zM503,169h1v1h-1zM503,459h1v1h-1zM502,168h1v1h-1zM502,460h1v1h-1zM444,110h1v1h-1zM444,518h1v1h-1zM97,164h1v1h-1zM97,464h1v1h-1zM507,175h1v1h-1zM507,453h1v1h-1zM92,170h1v2h-1zM92,457h1v2h-1zM68,213h1v2h-1zM68,414h1v2h-1zM136,122h1v1h-1zM136,506h1v1h-1zM135,123h1v1h-1zM135,505h1v1h-1zM470,131h1v1h-1zM470,497h1v1h-1zM139,120h1v1h-1zM139,508h1v1h-1zM478,139h1v1h-1zM478,489h1v1h-1zM128,129h1v1h-1zM128,499h1v1h-1zM534,228h1v2h-1zM534,399h1v2h-1zM110,148h1v1h-1zM110,480h1v1h-1zM524,204h1v2h-1zM524,423h1v2h-1zM125,132h1v1h-1zM125,496h1v1h-1zM538,239h1v4h-1zM538,386h1v4h-1zM530,218h1v2h-1zM530,409h1v2h-1zM462,124h1v1h-1zM462,504h1v1h-1zM88,176h1v2h-1zM88,451h1v2h-1zM477,138h1v1h-1zM477,490h1v1h-1zM451,115h1v1h-1zM451,513h1v1h-1zM77,195h1v1h-1zM77,433h1v1h-1zM440,107h1v1h-1zM440,521h1v1h-1zM80,189h1v2h-1zM80,438h1v2h-1zM521,198h1v2h-1zM521,429h1v2h-1zM116,141h1v1h-1zM116,487h1v1h-1zM455,118h1v1h-1zM455,510h1v1h-1zM514,186h1v2h-1zM514,441h1v2h-1zM537,236h1v3h-1zM537,390h1v3h-1zM102,157h1v1h-1zM102,471h1v1h-1zM484,145h1v2h-1zM484,482h1v2h-1zM424,97h1v1h-1zM424,531h1v1h-1zM490,152h1v1h-1zM490,476h1v1h-1zM55,250h1v4h-1zM55,375h1v4h-1zM124,133h1v1h-1zM124,495h1v1h-1zM103,156h1v1h-1zM103,472h1v1h-1zM111,147h1v1h-1zM111,481h1v1h-1zM498,162h1v2h-1zM498,465h1v2h-1zM495,158h1v2h-1zM495,469h1v2h-1zM72,204h1v2h-1zM72,423h1v2h-1zM544,262h1v5h-1zM544,362h1v5h-1zM84,183h1v1h-1zM84,445h1v1h-1zM465,127h1v1h-1zM465,501h1v1h-1zM87,178h1v1h-1zM87,450h1v1h-1zM505,172h1v1h-1zM505,456h1v1h-1zM76,196h1v2h-1zM76,431h1v2h-1zM517,191h1v2h-1zM517,436h1v2h-1zM473,134h1v1h-1zM473,494h1v1h-1zM123,134h1v1h-1zM123,494h1v1h-1zM520,196h1v2h-1zM520,431h1v2h-1zM529,215h1v3h-1zM529,411h1v3h-1zM510,179h1v2h-1zM510,448h1v2h-1zM513,184h1v2h-1zM513,443h1v2h-1zM95,166h1v2h-1zM95,461h1v2h-1zM541,250h1v4h-1zM541,375h1v4h-1zM162,103h1v1h-1zM162,525h1v1h-1zM90,173h1v2h-1zM90,454h1v2h-1zM106,152h1v1h-1zM106,476h1v1h-1zM172,97h1v1h-1zM172,531h1v1h-1zM83,184h1v2h-1zM83,443h1v2h-1zM91,172h1v1h-1zM91,456h1v1h-1zM131,127h1v1h-1zM131,501h1v1h-1zM516,189h1v2h-1zM516,438h1v2h-1zM493,156h1v1h-1zM493,472h1v1h-1zM509,178h1v1h-1zM509,450h1v1h-1zM120,137h1v1h-1zM120,491h1v1h-1zM488,150h1v1h-1zM488,478h1v1h-1zM112,145h1v2h-1zM112,482h1v2h-1zM457,120h1v1h-1zM457,508h1v1h-1zM461,123h1v1h-1zM461,505h1v1h-1zM528,213h1v2h-1zM528,414h1v2h-1zM127,130h1v1h-1zM127,498h1v1h-1zM496,160h1v1h-1zM496,468h1v1h-1zM94,168h1v1h-1zM94,460h1v1h-1zM119,138h1v1h-1zM119,490h1v1h-1zM480,141h1v1h-1zM480,487h1v1h-1zM134,124h1v1h-1zM134,504h1v1h-1zM105,153h1v2h-1zM105,474h1v2h-1zM126,131h1v1h-1zM126,497h1v1h-1zM468,129h1v1h-1zM468,499h1v1h-1zM472,133h1v1h-1zM472,495h1v1h-1zM518,193h1v2h-1zM518,434h1v2h-1zM93,169h1v1h-1zM93,459h1v1h-1zM145,115h1v1h-1zM145,513h1v1h-1zM479,140h1v1h-1zM479,488h1v1h-1zM71,206h1v2h-1zM71,421h1v2h-1zM149,112h1v1h-1zM149,516h1v1h-1zM485,147h1v1h-1zM485,481h1v1h-1zM104,155h1v1h-1zM104,473h1v1h-1zM62,228h1v2h-1zM62,399h1v2h-1zM132,126h1v1h-1zM132,502h1v1h-1zM475,136h1v1h-1zM475,492h1v1h-1zM122,135h1v1h-1zM122,493h1v1h-1zM113,144h1v1h-1zM113,484h1v1h-1zM456,119h1v1h-1zM456,509h1v1h-1zM527,211h1v2h-1zM527,416h1v2h-1zM487,149h1v1h-1zM487,479h1v1h-1zM452,116h1v1h-1zM452,512h1v1h-1zM108,150h1v1h-1zM108,478h1v1h-1zM179,93h1v1h-1zM179,535h1v1h-1zM59,236h1v3h-1zM59,390h1v3h-1zM437,105h1v1h-1zM437,523h1v1h-1zM107,151h1v1h-1zM107,477h1v1h-1zM474,135h1v1h-1zM474,493h1v1h-1zM96,165h1v1h-1zM96,463h1v1h-1zM481,142h1v1h-1zM481,486h1v1h-1zM115,142h1v1h-1zM115,486h1v1h-1zM429,100h1v1h-1zM429,528h1v1h-1zM167,100h1v1h-1zM167,528h1v1h-1zM153,109h1v1h-1zM153,519h1v1h-1zM497,161h1v1h-1zM497,467h1v1h-1zM469,130h1v1h-1zM469,498h1v1h-1z" fill="#000" shape-rendering="crispEdges"/>
<path d="M278.0,308.5h5M280.5,306.0v5M287.0,309.5h5M289.5,307.0v5M292.0,306.5h5M294.5,304.0v5M300.0,307.5h5M302.5,305.0v5M294.0,331.5h5M296.5,329.0v5M302.0,329.5h5M304.5,327.0v5M299.5,323.5h5M302.0,321.0v5M288.0,318.5h5M290.5,316.0v5M286.0,316.5h5M288.5,314.0v5" stroke="#80ff80" stroke-width="1" fill="none"/>
<circle cx="298.6" cy="322.4" r="1.55" fill="none" stroke="#80ff80" stroke-width="1.1"/>
<circle cx="297.4" cy="324.2" r="1.55" fill="none" stroke="#80ff80" stroke-width="1.1"/>
<circle cx="301.9" cy="283" r="1.55" fill="none" stroke="#80ff80" stroke-width="1.1"/>
<circle cx="300.9" cy="297" r="1.55" fill="none" stroke="#80ff80" stroke-width="1.1"/>
<circle cx="304.3" cy="297" r="1.55" fill="none" stroke="#80ff80" stroke-width="1.1"/>
<circle cx="294.9" cy="301.8" r="1.55" fill="none" stroke="#80ff80" stroke-width="1.1"/>
<circle cx="301.1" cy="303.8" r="1.55" fill="none" stroke="#80ff80" stroke-width="1.1"/>
<circle cx="278.9" cy="315.9" r="1.55" fill="none" stroke="#80ff80" stroke-width="1.1"/>
<circle cx="289.6" cy="323.6" r="1.55" fill="none" stroke="#80ff80" stroke-width="1.1"/>
<circle cx="292.6" cy="323.2" r="1.55" fill="none" stroke="#80ff80" stroke-width="1.1"/>
<circle cx="295.8" cy="324.6" r="1.55" fill="none" stroke="#80ff80" stroke-width="1.1"/>
<circle cx="299" cy="323.5" r="1.55" fill="none" stroke="#80ff80" stroke-width="1.1"/>
<circle cx="302.2" cy="323.8" r="1.55" fill="none" stroke="#80ff80" stroke-width="1.1"/>
<circle cx="300.9" cy="329.9" r="1.55" fill="none" stroke="#80ff80" stroke-width="1.1"/>
<circle cx="318.9" cy="342" r="1.55" fill="none" stroke="#80ff80" stroke-width="1.1"/>
<circle cx="292.5" cy="311.5" r="1.55" fill="none" stroke="#80ff80" stroke-width="1.1"/>
<circle cx="295.5" cy="311" r="1.55" fill="none" stroke="#80ff80" stroke-width="1.1"/>
<circle cx="300.5" cy="310.5" r="1.55" fill="none" stroke="#80ff80" stroke-width="1.1"/>
<circle cx="303.5" cy="311.5" r="1.55" fill="none" stroke="#80ff80" stroke-width="1.1"/>
<circle cx="305.5" cy="313.5" r="1.55" fill="none" stroke="#80ff80" stroke-width="1.1"/>
<path d="M291.3,311.5 L294,310.2 L298,310.3 L298,321.5 L292,321.5 L291,318.5 L290.5,316 Z M298.8,309 L303.5,309 L305,312 L305,315 L311,320 L308.5,322 L305,320.5 L299,320.5 Z" fill="#80ff80"/>
<path d="M295,314h1v1h-1zM297,314h1v1h-1z" fill="#000" shape-rendering="crispEdges"/>
<polygon points="308.5,143.0 444.5,151.3 444.5,145.3 469.5,159.5 444.5,170.4 444.5,164.6 308.5,155.7" fill="none" stroke="#d6d6d6" stroke-width="1"/>
<polygon points="298.5,308.0 434.5,316.3 434.5,310.3 459.5,324.5 434.5,335.4 434.5,329.6 298.5,320.7" fill="none" stroke="#d6d6d6" stroke-width="1"/>
<polygon points="288.5,473.0 424.5,481.3 424.5,475.3 449.5,489.5 424.5,500.4 424.5,494.6 288.5,485.7" fill="none" stroke="#d6d6d6" stroke-width="1"/>
<text class="mb" x="281.6" y="57" style="font-size:12px;letter-spacing:-0.22px">North</text>
<text class="mb" x="281.4" y="578" style="font-size:12px;letter-spacing:-0.22px">South</text>
<text class="mb" x="15" y="318" style="font-size:12px;letter-spacing:-0.22px">West</text>
<text class="mb" x="552" y="318" style="font-size:12px;letter-spacing:-0.22px">East</text>
<text class="mb" x="399" y="19" xml:space="preserve" style="font-size:13px;letter-spacing:0.173px">STATION NAME    YYYY DATE  DDD HHMMSS AXN PPS IGP</text>
<text class="mb" x="399" y="35" xml:space="preserve" style="font-size:13px;letter-spacing:0.173px">Athens          2016 May03 124 174820 417 100 -8U</text>
<text class="m" x="594.5" y="70.75" xml:space="preserve" style="font-size:11px;letter-spacing:0.377px">Num of Sources</text>
<text class="m" x="790.8" y="70.75" text-anchor="end" style="font-size:11px;letter-spacing:0.377px">74</text>
<text class="m" x="594.5" y="84.75" xml:space="preserve" style="font-size:11px;letter-spacing:0.377px">Min Freq, kHz</text>
<text class="m" x="790.8" y="84.75" text-anchor="end" style="font-size:11px;letter-spacing:0.377px">6600</text>
<text class="m" x="594.5" y="98.75" xml:space="preserve" style="font-size:11px;letter-spacing:0.377px">Max Freq, kHz</text>
<text class="m" x="790.8" y="98.75" text-anchor="end" style="font-size:11px;letter-spacing:0.377px">6600</text>
<text class="m" x="594.5" y="112.75" xml:space="preserve" style="font-size:11px;letter-spacing:0.377px">Min Range, km</text>
<text class="m" x="790.8" y="112.75" text-anchor="end" style="font-size:11px;letter-spacing:0.377px">330</text>
<text class="m" x="594.5" y="126.75" xml:space="preserve" style="font-size:11px;letter-spacing:0.377px">Max Range, km</text>
<text class="m" x="790.8" y="126.75" text-anchor="end" style="font-size:11px;letter-spacing:0.377px">337</text>
<text class="m" x="594.5" y="140.75" xml:space="preserve" style="font-size:11px;letter-spacing:0.377px">Max Amp, dB</text>
<text class="m" x="790.8" y="140.75" text-anchor="end" style="font-size:11px;letter-spacing:0.377px">36</text>
<text class="m" x="594.5" y="154.75" xml:space="preserve" style="font-size:11px;letter-spacing:0.377px">Max SNR Amp, dB</text>
<text class="m" x="790.8" y="154.75" text-anchor="end" style="font-size:11px;letter-spacing:0.377px">34</text>
<text class="m" x="594.5" y="168.75" xml:space="preserve" style="font-size:11px;letter-spacing:0.377px">Min SNR Amp, dB</text>
<text class="m" x="790.8" y="168.75" text-anchor="end" style="font-size:11px;letter-spacing:0.377px">13</text>
<text class="m" x="594.5" y="182.75" xml:space="preserve" style="font-size:11px;letter-spacing:0.377px">Avg SNR Amp, dB</text>
<text class="m" x="790.8" y="182.75" text-anchor="end" style="font-size:11px;letter-spacing:0.377px">23</text>
<text class="m" x="594.5" y="196.75" xml:space="preserve" style="font-size:11px;letter-spacing:0.377px">Max RMS Err, deg</text>
<text class="m" x="790.8" y="196.75" text-anchor="end" style="font-size:11px;letter-spacing:0.377px">16.0</text>
<text class="m" x="594.5" y="210.75" xml:space="preserve" style="font-size:11px;letter-spacing:0.377px">Min RMS Err, deg</text>
<text class="m" x="790.8" y="210.75" text-anchor="end" style="font-size:11px;letter-spacing:0.377px">0.0</text>
<text class="m" x="594.5" y="224.75" xml:space="preserve" style="font-size:11px;letter-spacing:0.377px">Avg RMS Err, deg</text>
<text class="m" x="790.8" y="224.75" text-anchor="end" style="font-size:11px;letter-spacing:0.377px">4.4</text>
<text class="m" x="594.5" y="238.75" xml:space="preserve" style="font-size:11px;letter-spacing:0.377px">Doppler Res, Hz</text>
<text class="m" x="790.8" y="238.75" text-anchor="end" style="font-size:11px;letter-spacing:0.377px">0.3906</text>
<text class="m" x="594.5" y="252.75" xml:space="preserve" style="font-size:11px;letter-spacing:0.377px">CIT, sec</text>
<text class="m" x="790.8" y="252.75" text-anchor="end" style="font-size:11px;letter-spacing:0.377px">2.56</text>
<text class="m" x="594.5" y="266.75" xml:space="preserve" style="font-size:11px;letter-spacing:0.377px">Num of CITs</text>
<text class="m" x="790.8" y="266.75" text-anchor="end" style="font-size:11px;letter-spacing:0.377px">8</text>
<text class="m" x="594.5" y="280.75" xml:space="preserve" style="font-size:11px;letter-spacing:0.377px">Polarization</text>
<text class="m" x="790.8" y="280.75" text-anchor="end" style="font-size:11px;letter-spacing:0.377px">O-mode</text>
<text class="m" x="594.5" y="294.75" xml:space="preserve" style="font-size:11px;letter-spacing:0.377px">Center of Sources, deg:</text>
<text class="m" x="594.5" y="308.75" xml:space="preserve" style="font-size:11px;letter-spacing:0.377px">          Zenith</text>
<text class="m" x="790.8" y="308.75" text-anchor="end" style="font-size:11px;letter-spacing:0.377px">0.4</text>
<text class="m" x="594.5" y="322.75" xml:space="preserve" style="font-size:11px;letter-spacing:0.377px">          Azimuth</text>
<text class="m" x="790.8" y="322.75" text-anchor="end" style="font-size:11px;letter-spacing:0.377px">192</text>
<path d="M722.3,320 Q723.6,317.2 725.9,319.4" fill="none" stroke="#222" stroke-width="1"/><path d="M720.2,320.3 L723.6,318.6 L722.9,321.6 Z" fill="#222"/>
<text class="m" x="12.2" y="571.8" style="font-size:12.4px;font-style:italic">V</text>
<text class="m" x="19.3" y="575.5" style="font-size:10px">h</text>
<text class="m" x="25.3" y="572" xml:space="preserve" style="font-size:11px;letter-spacing:0.377px"> = <tspan style="font-style:italic">514</tspan> ± <tspan style="font-style:italic">206</tspan> m/s</text>
<text class="m" x="11.7" y="592.5" xml:space="preserve" style="font-size:11px;letter-spacing:0.377px;font-style:italic">Geographic coordinates</text>
<text class="m" x="481" y="571.8" style="font-size:12.4px;font-style:italic">V</text>
<text class="m" x="488" y="574.8" style="font-size:10px">z</text>
<text class="m" x="494.2" y="572" xml:space="preserve" style="font-size:11px;letter-spacing:0.377px"> = <tspan style="font-style:italic">8</tspan> ± <tspan style="font-style:italic">1</tspan> m/s</text>
<text class="m" x="418.8" y="592" xml:space="preserve" style="font-size:11px;letter-spacing:0.377px;font-style:italic">Zenith: max 40<tspan style="letter-spacing:-1.75px">°</tspan>  step 5°</text>
<text class="s" x="654" y="592.5" xml:space="preserve" style="font-size:9px;letter-spacing:0.27px">ShowSkymap v 1.0   SD v 5.1</text>
<defs><linearGradient id="cb" x1="0" y1="0" x2="0" y2="1">
<stop offset="0.0000" stop-color="rgb(0, 0, 180)"/>
<stop offset="0.0620" stop-color="rgb(0, 0, 255)"/>
<stop offset="0.3554" stop-color="rgb(0, 255, 255)"/>
<stop offset="0.4979" stop-color="rgb(128, 255, 128)"/>
<stop offset="0.6405" stop-color="rgb(255, 255, 0)"/>
<stop offset="0.9339" stop-color="rgb(255, 0, 0)"/>
<stop offset="1.0000" stop-color="rgb(180, 0, 0)"/>
</linearGradient></defs>
<rect x="593" y="341" width="15" height="242" fill="url(#cb)" shape-rendering="crispEdges"/>
<rect x="608" y="341" width="1" height="242" fill="#000" shape-rendering="crispEdges"/>
<path d="M608,341h7v1h-7zM608,345h4v1h-4zM608,350h4v1h-4zM608,355h4v1h-4zM608,360h4v1h-4zM608,365h7v1h-7zM608,369h4v1h-4zM608,374h4v1h-4zM608,379h4v1h-4zM608,384h4v1h-4zM608,389h7v1h-7zM608,394h4v1h-4zM608,398h4v1h-4zM608,403h4v1h-4zM608,408h4v1h-4zM608,413h7v1h-7zM608,418h4v1h-4zM608,422h4v1h-4zM608,427h4v1h-4zM608,432h4v1h-4zM608,437h7v1h-7zM608,442h4v1h-4zM608,447h4v1h-4zM608,451h4v1h-4zM608,456h4v1h-4zM608,461h7v1h-7zM608,466h4v1h-4zM608,471h4v1h-4zM608,475h4v1h-4zM608,480h4v1h-4zM608,485h7v1h-7zM608,490h4v1h-4zM608,495h4v1h-4zM608,500h4v1h-4zM608,504h4v1h-4zM608,509h7v1h-7zM608,514h4v1h-4zM608,519h4v1h-4zM608,524h4v1h-4zM608,528h4v1h-4zM608,533h7v1h-7zM608,538h4v1h-4zM608,543h4v1h-4zM608,548h4v1h-4zM608,553h4v1h-4zM608,557h7v1h-7zM608,562h4v1h-4zM608,567h4v1h-4zM608,572h4v1h-4zM608,577h4v1h-4zM608,582h7v1h-7z" fill="#000" shape-rendering="crispEdges"/>
<text class="sb" x="617" y="344.50" style="font-size:11px">25.0</text>
<text class="sb" x="617" y="368.60" style="font-size:11px">20.0</text>
<text class="sb" x="617" y="392.70" style="font-size:11px">15.0</text>
<text class="sb" x="617" y="416.80" style="font-size:11px">10.0</text>
<text class="sb" x="617" y="440.90" style="font-size:11px">5.0</text>
<text class="sb" x="617" y="465.00" style="font-size:11px">0</text>
<text class="sb" x="617" y="489.10" style="font-size:11px">-5.0</text>
<text class="sb" x="617" y="513.20" style="font-size:11px">-10.0</text>
<text class="sb" x="617" y="537.30" style="font-size:11px">-15.0</text>
<text class="sb" x="617" y="561.40" style="font-size:11px">-20.0</text>
<text class="sb" x="617" y="585.50" style="font-size:11px">-25.0</text>
<text class="sb" transform="translate(665,492) rotate(-90)" textLength="53" lengthAdjust="spacingAndGlyphs" style="font-size:9px;font-stretch:condensed">Doppler, Hz</text>
<path d="M668.8,402.5h8M672.8,398.5v8" stroke="#0000e0" stroke-width="1.2" fill="none"/>
<text class="sb" x="682" y="405.8" style="font-size:10px;fill:#0000e6">Positive</text>
<circle cx="673" cy="523" r="2.6" fill="none" stroke="#e60000" stroke-width="1.1"/>
<text class="sb" x="682" y="525.8" style="font-size:10px;fill:#e60000">Negative</text>
</svg></body></html>
